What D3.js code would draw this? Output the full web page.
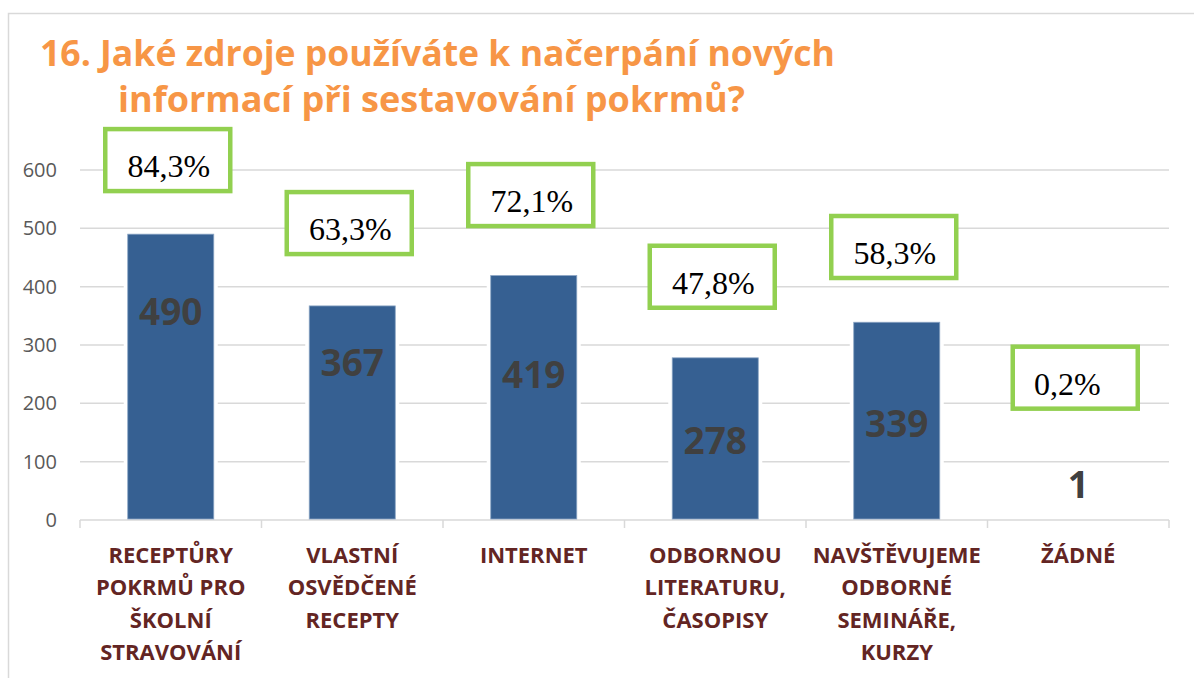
<!DOCTYPE html>
<html>
<head>
<meta charset="utf-8">
<script src="https://cdn.jsdelivr.net/npm/d3@7"></script>
<style>
  body { margin: 0; background: #fff; }
  svg { display: block; }
</style>
</head>
<body>
<div class="chart"></div>
<script>
// chart data
const categories = [
    ["RECEPTŮRY", "POKRMŮ PRO", "ŠKOLNÍ", "STRAVOVÁNÍ"],
    ["VLASTNÍ", "OSVĚDČENÉ", "RECEPTY"],
    ["INTERNET"],
    ["ODBORNOU", "LITERATURU,", "ČASOPISY"],
    ["NAVŠTĚVUJEME", "ODBORNÉ", "SEMINÁŘE,", "KURZY"],
    ["ŽÁDNÉ"]
];
const counts = [490, 367, 419, 278, 339, 1];
const percents = [84.3, 63.3, 72.1, 47.8, 58.3, 0.2];
const yTicks = [0, 100, 200, 300, 400, 500, 600];
// where the labels were placed by hand, in axis units
const countLabelAt = [356, 270, 249, 135, 165, 60];
const percentBoxAt = [617, 509, 557, 417, 468, 244];

const width = 1194, height = 678;
const margin = {top: 170, right: 25, bottom: 158, left: 80};

let svg = d3.select(".chart").append("svg")
    .attr("width", width)
    .attr("height", height);

// outer frame
svg.append("path")
    .attr("d", `M8.5,${height} V13.5 H${width}`)
    .attr("fill", "none")
    .attr("stroke", "#d9d9d9")
    .attr("stroke-width", 1.5);

// title
let title = svg.append("g")
    .attr("fill", "#f79646")
    .style("font-family", "'Open Sans', sans-serif")
    .style("font-weight", "bold")
    .style("font-size", "35px");
title.append("text")
    .attr("x", 40).attr("y", 66)
    .attr("textLength", 795).attr("lengthAdjust", "spacingAndGlyphs")
    .text("16. Jaké zdroje používáte k načerpání nových");
title.append("text")
    .attr("x", 118).attr("y", 112)
    .attr("textLength", 627).attr("lengthAdjust", "spacingAndGlyphs")
    .text("informací při sestavování pokrmů?");

// scales
let xScale = d3.scaleBand()
    .domain(d3.range(categories.length))
    .range([margin.left, width - margin.right])
    .paddingInner(0.526)
    .paddingOuter(0.263);

let xStep = xScale.step();
let xLeft = margin.left, xRight = xLeft + xStep * categories.length;

let yScale = d3.scaleLinear()
    .domain([0, 600])
    .range([height - margin.bottom, margin.top]);

// gridlines
svg.append("g")
    .selectAll("line")
    .data(yTicks.filter(d => d > 0))
    .enter().append("line")
    .attr("x1", xLeft).attr("x2", xRight)
    .attr("y1", d => yScale(d)).attr("y2", d => yScale(d))
    .attr("stroke", "#d9d9d9")
    .attr("stroke-width", 1.5);

// y axis labels
let yAxis = d3.axisLeft(yScale).tickValues(yTicks).tickSize(0).tickPadding(0);
svg.append("g")
    .attr("transform", `translate(${xLeft - 23},0)`)
    .call(yAxis)
    .call(g => g.select(".domain").remove())
    .selectAll("text")
    .attr("fill", "#595959")
    .style("font-family", "'Open Sans', sans-serif")
    .style("font-size", "20px");

// bottom axis line and ticks
svg.append("line")
    .attr("x1", xLeft).attr("x2", xRight)
    .attr("y1", yScale(0)).attr("y2", yScale(0))
    .attr("stroke", "#d9d9d9").attr("stroke-width", 1.5);
svg.append("g")
    .selectAll("line")
    .data(d3.range(categories.length + 1))
    .enter().append("line")
    .attr("x1", d => xLeft + d * xStep).attr("x2", d => xLeft + d * xStep)
    .attr("y1", yScale(0)).attr("y2", yScale(0) + 8)
    .attr("stroke", "#d9d9d9").attr("stroke-width", 1.5);

// white gap around bars, then bars
svg.append("g")
    .selectAll("rect")
    .data(counts)
    .enter().append("rect")
    .attr("x", (d, i) => xScale(i) - 4)
    .attr("width", xScale.bandwidth() + 8)
    .attr("y", d => yScale(d))
    .attr("height", d => yScale(0) - yScale(d) - 1)
    .attr("fill", "#fff");

svg.append("g")
    .selectAll("rect")
    .data(counts)
    .enter().append("rect")
    .attr("class", "bar")
    .attr("x", (d, i) => xScale(i))
    .attr("width", xScale.bandwidth())
    .attr("y", d => yScale(d))
    .attr("height", d => yScale(0) - yScale(d) - 1)
    .attr("fill", "#366092")
    .attr("stroke", "#8aa4c4")
    .attr("stroke-width", 0.8);

// count labels
svg.append("g")
    .selectAll("text")
    .data(counts)
    .enter().append("text")
    .attr("x", (d, i) => xScale(i) + xScale.bandwidth() / 2)
    .attr("y", (d, i) => yScale(countLabelAt[i]) + 13)
    .attr("text-anchor", "middle")
    .attr("fill", "#404040")
    .style("font-family", "'Open Sans', sans-serif")
    .style("font-weight", "bold")
    .style("font-size", "37px")
    .text(d => d);

// percent boxes
let boxW = 125, boxH = 62;
let boxes = svg.append("g")
    .selectAll("g")
    .data(percents)
    .enter().append("g")
    .attr("transform", (d, i) => `translate(${xScale(i) + xScale.bandwidth() / 2 - 3},${yScale(percentBoxAt[i])})`);

boxes.append("rect")
    .attr("x", -boxW / 2).attr("y", -boxH / 2)
    .attr("width", boxW).attr("height", boxH)
    .attr("fill", "#fff")
    .attr("stroke", "#92d050")
    .attr("stroke-width", 4.5);

boxes.append("text")
    .attr("x", (d, i) => i === percents.length - 1 ? -8 : 1)
    .attr("y", 17)
    .attr("text-anchor", "middle")
    .attr("fill", "#000")
    .style("font-family", "'Liberation Serif', 'Times New Roman', serif")
    .style("font-size", "32px")
    .text(d => d3.format(".1f")(d).replace(".", ",") + "%");

// category labels
let catLabels = svg.append("g")
    .selectAll("text")
    .data(categories)
    .enter().append("text")
    .attr("text-anchor", "middle")
    .attr("fill", "#632523")
    .style("font-family", "'Open Sans', sans-serif")
    .style("font-weight", "bold")
    .style("font-size", "22px");

catLabels.selectAll("tspan")
    .data((d, i) => d.map(line => ({line: line, i: i})))
    .enter().append("tspan")
    .attr("x", d => xScale(d.i) + xScale.bandwidth() / 2)
    .attr("y", (d, j) => 563 + j * 32.3)
    .text(d => d.line);
</script>
</body>
</html>
